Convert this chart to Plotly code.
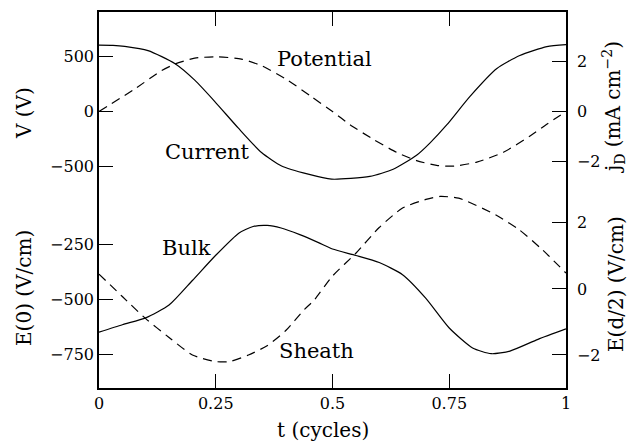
import plotly.graph_objects as go

# ---- data ----
t_potential = [0, 0.077, 0.134, 0.163, 0.205, 0.255, 0.305, 0.348, 0.405, 0.455, 0.5,
               0.537, 0.587, 0.637, 0.68, 0.723, 0.759, 0.809, 0.866, 0.923, 0.958, 1.0]
potential = [0, 205, 370, 430, 483, 495, 474, 415, 281, 133, 0,
             -118, -251, -369, -444, -488, -494, -458, -369, -222, -118, 0]

t_current = [0, 0.03, 0.055, 0.105, 0.163, 0.205, 0.248, 0.298, 0.348, 0.391, 0.448, 0.498,
             0.58, 0.63, 0.68, 0.709, 0.745, 0.794, 0.852, 0.901, 0.959, 1.0]
current = [2.67, 2.66, 2.62, 2.45, 1.92, 1.26, 0.40, -0.66, -1.65, -2.19, -2.52, -2.72,
           -2.61, -2.32, -1.76, -1.26, -0.53, 0.60, 1.73, 2.25, 2.61, 2.69]

t_bulk = [0, 0.05, 0.10, 0.15, 0.20, 0.25, 0.30, 0.33, 0.36, 0.39, 0.43, 0.47, 0.50,
          0.55, 0.60, 0.65, 0.70, 0.75, 0.80, 0.84, 0.88, 0.94, 1.0]
bulk = [-648, -614, -583, -525, -414, -300, -199, -170, -165, -177, -207, -243, -272,
        -301, -333, -388, -495, -629, -719, -745, -733, -680, -633]

t_sheath = [0, 0.05, 0.10, 0.15, 0.20, 0.25, 0.28, 0.32, 0.36, 0.40, 0.44, 0.46, 0.50,
            0.55, 0.60, 0.65, 0.70, 0.73, 0.77, 0.85, 0.90, 0.95, 1.0]
sheath = [0.45, -0.23, -0.90, -1.47, -2.0, -2.2, -2.2, -2.0, -1.72, -1.26, -0.62, -0.35, 0.39,
          1.08, 1.86, 2.45, 2.71, 2.80, 2.75, 2.24, 1.79, 1.18, 0.48]

x_ticks = [0, 0.25, 0.5, 0.75, 1]
x_ticklabels = ["0", "0.25", "0.5", "0.75", "1"]
v_ticks = [-500, 0, 500]
jd_ticks = [-2, 0, 2]
e0_ticks = [-750, -500, -250]
ed2_ticks = [-2, 0, 2]

FONT = "DejaVu Serif"
PLOT_H = 376.0
TOP_SPLIT = 177 / PLOT_H          # top panel starts here
BOT_TOP = 203 / PLOT_H            # bottom panel extends up here (sheath peak overlaps)
# bottom panel scales: left 800 units per 177 px, right 5.36 units per 177 px
left_bot_hi = -900 + 800 * 203 / 177
right_bot_hi = -3 + 5.36 * 203 / 177

fig = go.Figure()
line_solid = dict(color="black", width=1.2, shape="spline", smoothing=0.6)
line_dash = dict(color="black", width=1.2, dash="9px,6px", shape="spline", smoothing=0.6)

fig.add_trace(go.Scatter(x=t_potential, y=potential, mode="lines", line=line_dash,
                         xaxis="x2", yaxis="y3", name="Potential"))
fig.add_trace(go.Scatter(x=t_current, y=current, mode="lines", line=line_solid,
                         xaxis="x2", yaxis="y4", name="Current"))
fig.add_trace(go.Scatter(x=t_bulk, y=bulk, mode="lines", line=line_solid,
                         xaxis="x", yaxis="y", name="Bulk"))
fig.add_trace(go.Scatter(x=t_sheath, y=sheath, mode="lines", line=line_dash,
                         xaxis="x", yaxis="y2", name="Sheath"))

tickfont = dict(family=FONT, size=16, color="black")
common = dict(showgrid=False, zeroline=False, showline=True, linecolor="black",
              linewidth=1.5, ticks="inside", ticklen=14, tickwidth=1.2,
              tickcolor="black", tickfont=tickfont)

fig.update_layout(
    width=637, height=445,
    margin=dict(l=99, r=71, t=12, b=57),
    paper_bgcolor="white", plot_bgcolor="rgba(0,0,0,0)",
    showlegend=False,
    xaxis=dict(domain=[0, 1], range=[0, 1], anchor="y", tickvals=x_ticks,
               ticktext=x_ticklabels, **common),
    xaxis2=dict(domain=[0, 1], range=[0, 1], anchor="y3", side="top", matches="x",
                tickvals=x_ticks, showticklabels=False, **common),
    yaxis=dict(domain=[0, BOT_TOP], range=[-900, left_bot_hi], anchor="x",
               tickvals=e0_ticks, **common),
    yaxis2=dict(range=[-3, right_bot_hi], overlaying="y", side="right", anchor="x",
                tickvals=ed2_ticks, ticklabelstandoff=6, **common),
    yaxis3=dict(domain=[TOP_SPLIT, 1], range=[-900, 900], anchor="x2", tickvals=v_ticks, **common),
    yaxis4=dict(range=[-4, 4], overlaying="y3", side="right", anchor="x2",
                tickvals=jd_ticks, ticklabelstandoff=6, **common),
)

lab = dict(family=FONT, size=21, color="black")
ttl = dict(family=FONT, size=20, color="black")
ann = [
    dict(text="Potential", x=0.377, y=477, xref="x2", yref="y3", xanchor="left", yanchor="middle", font=lab),
    dict(text="Current", x=0.137, y=-367, xref="x2", yref="y3", xanchor="left", yanchor="middle", font=lab),
    dict(text="Bulk", x=0.131, y=-268, xref="x", yref="y", xanchor="left", yanchor="middle", font=lab),
    dict(text="Sheath", x=0.381, y=-735, xref="x", yref="y", xanchor="left", yanchor="middle", font=lab),
    dict(text="V (V)", x=(24 - 99) / 467, y=(388 - 113) / PLOT_H, xref="paper", yref="paper",
         textangle=-90, xanchor="center", yanchor="middle", font=ttl),
    dict(text="E(0) (V/cm)", x=(24 - 99) / 467, y=(388 - 288) / PLOT_H, xref="paper", yref="paper",
         textangle=-90, xanchor="center", yanchor="middle", font=ttl),
    dict(text="j<sub>D</sub> (mA cm<sup>−2</sup>)", x=(614 - 99) / 467, y=(388 - 107) / PLOT_H,
         xref="paper", yref="paper", textangle=-90, xanchor="center", yanchor="middle", font=ttl),
    dict(text="E(d/2) (V/cm)", x=(616 - 99) / 467, y=(388 - 284) / PLOT_H,
         xref="paper", yref="paper", textangle=-90, xanchor="center", yanchor="middle", font=ttl),
    dict(text="t (cycles)", x=(323 - 99) / 467, y=(388 - 430) / PLOT_H,
         xref="paper", yref="paper", xanchor="center", yanchor="middle", font=ttl),
]
for a in ann:
    a.update(showarrow=False)
fig.update_layout(annotations=ann)

fig.write_html("out.html", config={"displayModeBar": False},
               post_script="document.body.style.margin='0px';")
